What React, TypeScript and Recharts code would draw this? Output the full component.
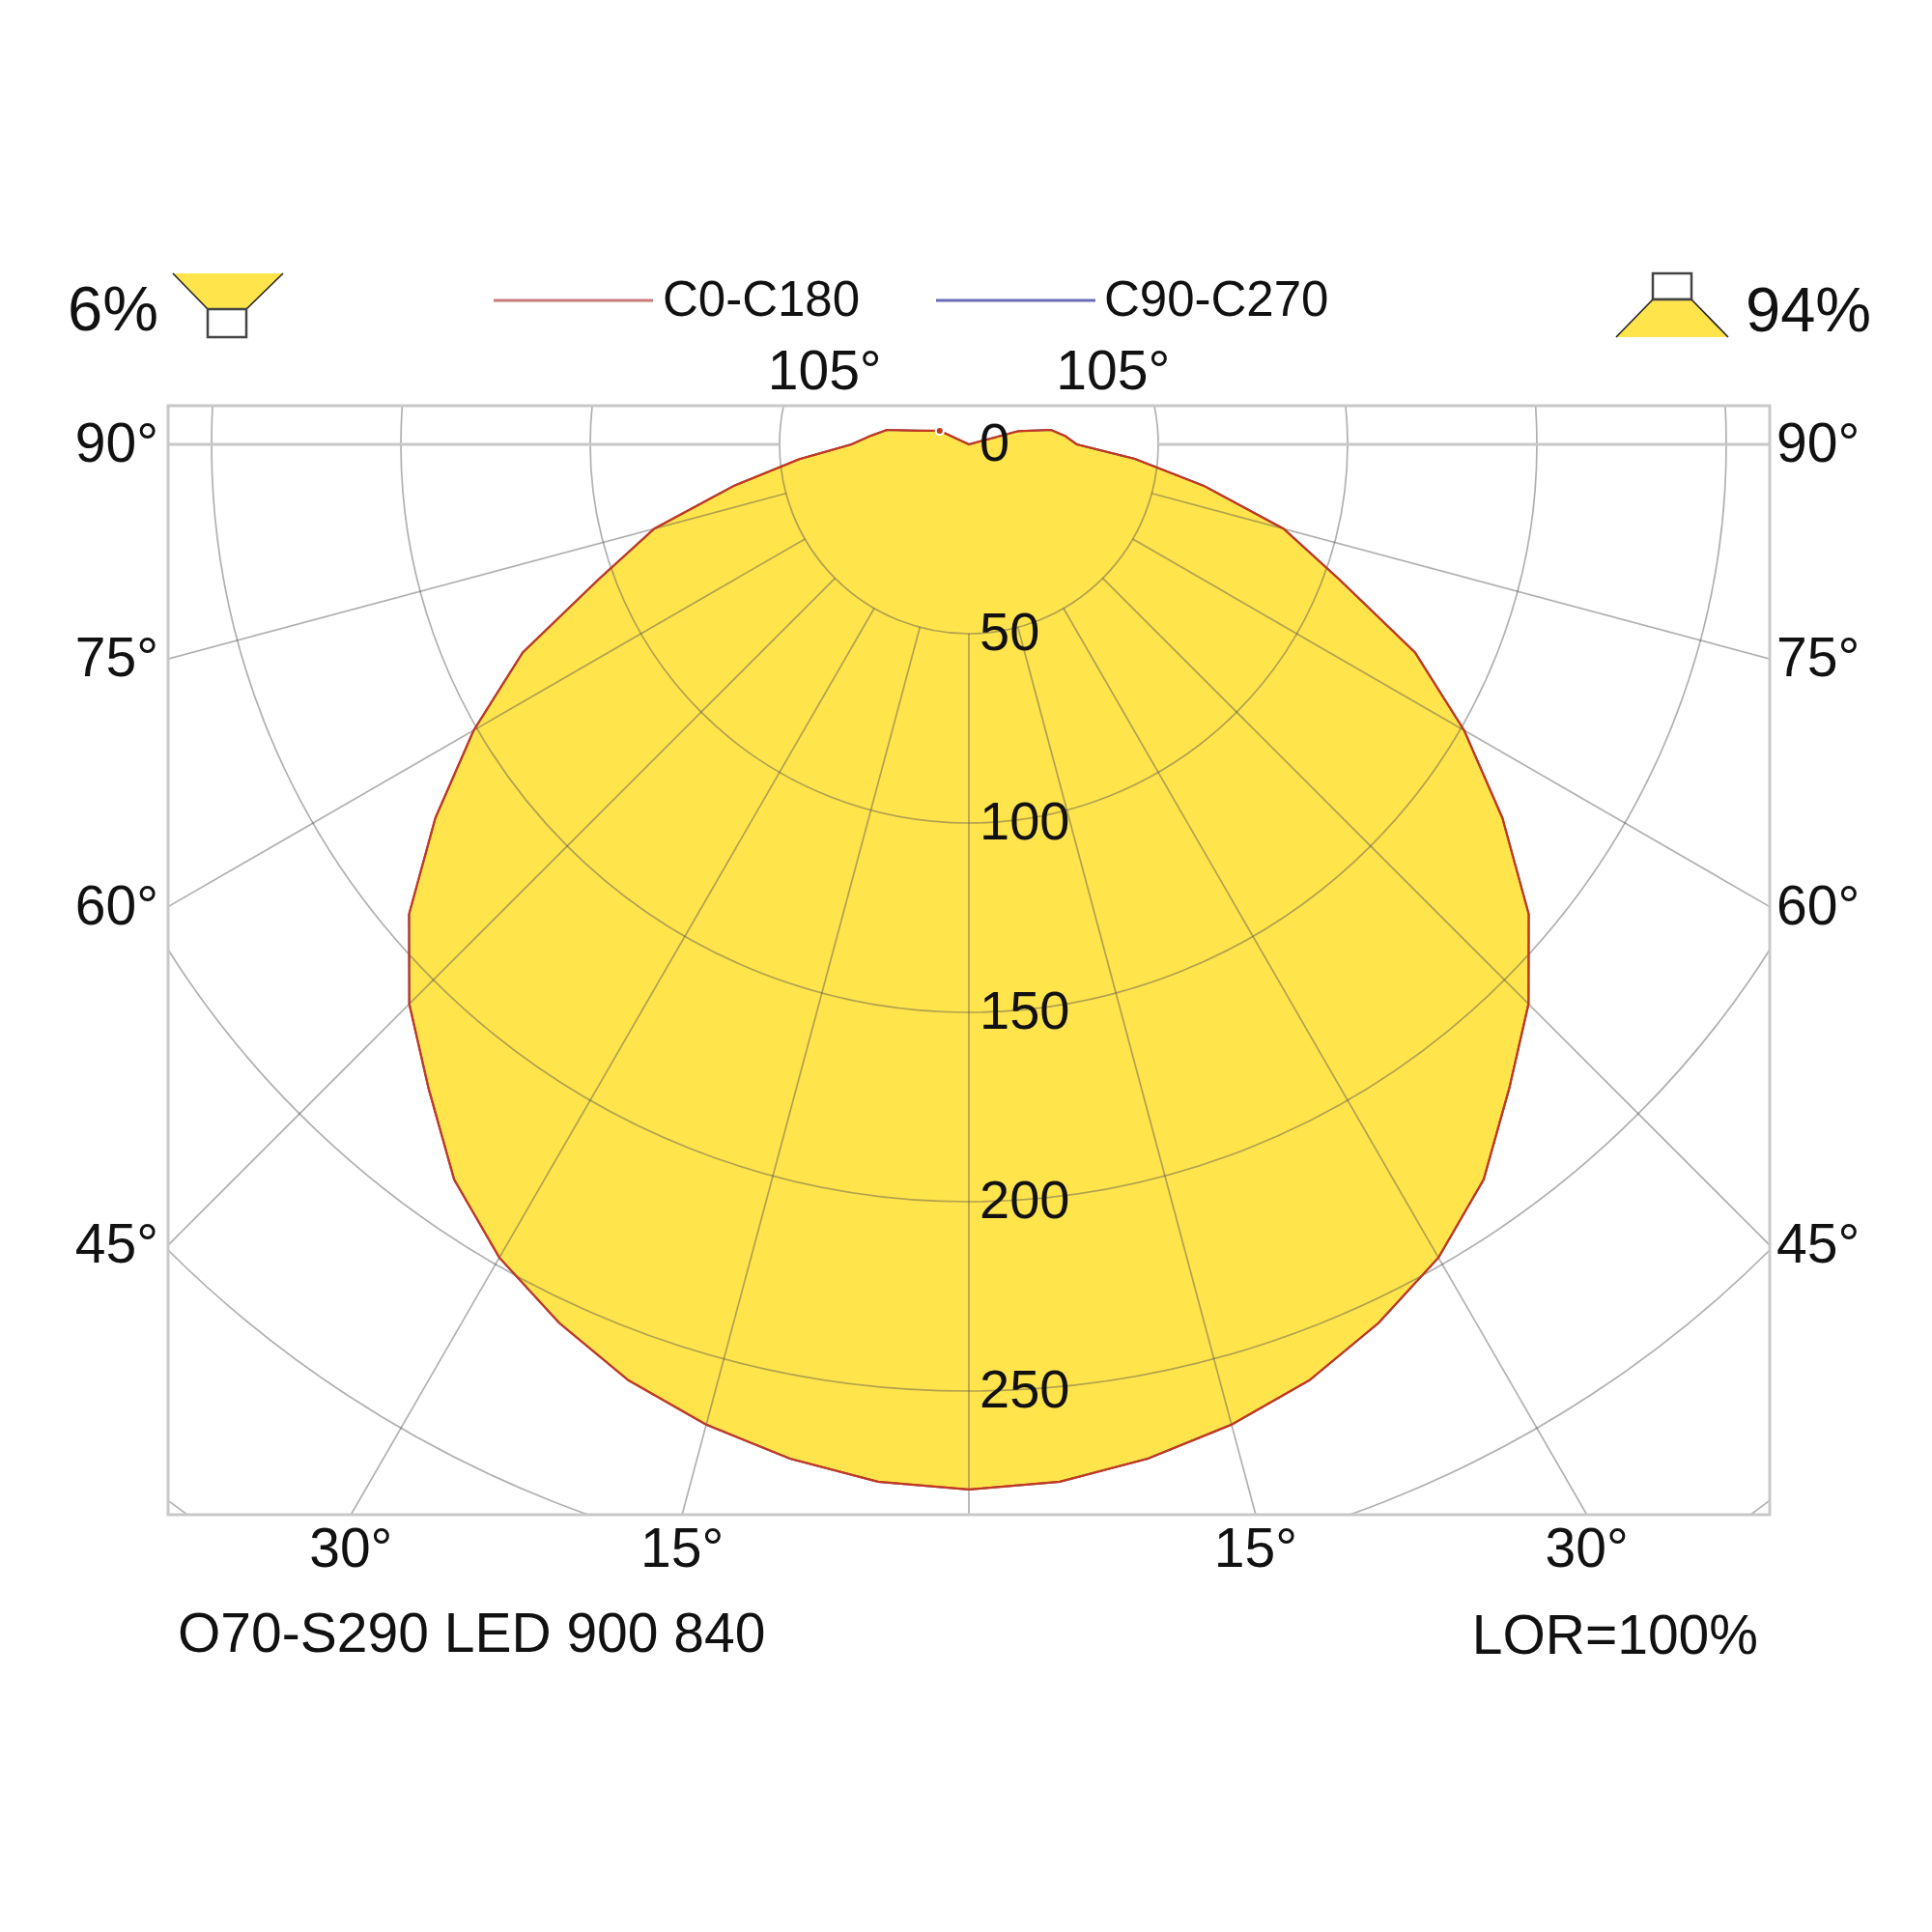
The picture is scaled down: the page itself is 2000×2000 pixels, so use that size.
import { RadarChart, Radar, PolarGrid, PolarAngleAxis, PolarRadiusAxis } from "recharts"

const WIDTH = 2000
const HEIGHT = 2000
const CX = 1003
const CY = 460
const START_ANGLE = -90 // gamma 0 points straight down
const INNER_R = 196 // 50 cd circle, the spokes start here
const OUTER_R = 1568 // 400 cd
const FONT = "'Liberation Sans', Arial, sans-serif"
const FRAME = { left: 174, top: 420, right: 1832, bottom: 1568 }

// gamma angles of the measurement (deg)
const gammaAngles = [
  0, 5, 10, 15, 20, 25, 30, 35, 40, 45, 50, 55, 60, 65, 70, 75, 80, 85, 90, 95, 100, 105, 110, 115, 120, 125,
  130, 135, 140, 145, 150, 155, 160, 165, 170, 175, 180,
]

// cd/klm, right half (C0) and left half (C180)
const c0 = [
  276, 275, 272, 268, 263, 256, 248, 237, 222, 209, 193, 172, 151, 130, 104, 86, 63, 44, 28.5, 25.5, 22, 13.5, 0, 0,
  0, 0, 0, 0, 0, 0, 0, 0, 0, 0, 0, 0, 0,
]
const c180 = [
  276, 275, 272, 268, 263, 256, 248, 237, 222, 209, 193, 172, 151, 130, 104, 86, 63, 45, 31, 26, 22, 14, 10.5, 8.5,
  0, 0, 0, 0, 0, 0, 0, 0, 0, 0, 0, 0, 0,
]
// C90-C270 lies under the C0-C180 curve
const c90 = [
  276, 275, 272, 268, 263, 256, 248, 237, 222, 209, 193, 172, 151, 130, 104, 86, 63, 44, 28.5, 25.5, 22, 13.5, 0, 0,
  0, 0, 0, 0, 0, 0, 0, 0, 0, 0, 0, 0, 0,
]
const c270 = [
  276, 275, 272, 268, 263, 256, 248, 237, 222, 209, 193, 172, 151, 130, 104, 86, 63, 45, 31, 26, 22, 14, 10.5, 8.5,
  0, 0, 0, 0, 0, 0, 0, 0, 0, 0, 0, 0, 0,
]

const seriesNames = ["C0-C180", "C90-C270"]
const strokeColors = ["#c4381c", "#5a5ab4"]
const legendColors = ["#c97b7b", "#6b6bb8"]

const angleTicks = [0, 15, 30, 45, 60, 75, 90, 105, 120, 135, 150, 165, 180, 195, 210, 225, 240, 255, 270, 285, 300, 315, 330, 345]
const labelledGammas = [15, 30, 45, 60, 75, 90, 105]
const radiusTicks = [0, 50, 100, 150, 200, 250, 300, 350, 400]
const RADIUS_LABEL_MAX = 250

const upwardShare = "6%"
const downwardShare = "94%"
const luminaireName = "O70-S290 LED 900 840"
const lorText = "LOR=100%"

// left half runs 0..180 clockwise from the bottom, right half comes back up
const rows = [
  ...gammaAngles.map((g, i) => ({ pos: g, c0c180: c180[i], c90c270: c270[i] })),
  ...gammaAngles
    .slice(1, -1)
    .map((g, i) => ({ pos: 360 - g, c0c180: c0[i + 1], c90c270: c90[i + 1] }))
    .reverse(),
]

const YELLOW = "#ffe44c"
// semi transparent so the lines turn olive over the yellow, like the original
const GRID = "#505050"
const GRID_OPACITY = 0.45

// where a spoke leaves the frame
function frameHit(gamma: number, side: number) {
  const rad = (gamma * Math.PI) / 180
  const dx = side * Math.sin(rad)
  const dy = Math.cos(rad)
  const tx = ((side < 0 ? FRAME.left : FRAME.right) - CX) / dx
  const ty = Math.abs(dy) < 1e-6 ? Infinity : ((dy > 0 ? FRAME.bottom : FRAME.top) - CY) / dy
  const t = Math.min(tx, ty)
  return { x: CX + dx * t, y: CY + dy * t, edge: tx <= ty ? "side" : dy > 0 ? "bottom" : "top" }
}

function AngleTick(props: any) {
  const v = Number(props.payload?.value)
  const gamma = v <= 180 ? v : 360 - v
  if (!labelledGammas.includes(gamma)) return null
  const side = v <= 180 ? -1 : 1
  const hit = frameHit(gamma, side)
  let x = hit.x
  let y = hit.y
  let anchor = "middle"
  if (hit.edge === "side") {
    x = side < 0 ? FRAME.left - 10 : FRAME.right + 7
    y = hit.y + 18
    anchor = side < 0 ? "end" : "start"
  } else if (hit.edge === "bottom") {
    y = FRAME.bottom + 54
  } else {
    y = FRAME.top - 17
  }
  return (
    <text x={x} y={y} textAnchor={anchor} fontSize={57} fontFamily={FONT} fill="#111">
      {`${gamma}°`}
    </text>
  )
}

function RadiusTick(props: any) {
  const v = Number(props.payload?.value)
  if (v > RADIUS_LABEL_MAX) return null
  return (
    <text x={props.x + 11} y={props.y + 17} textAnchor="start" fontSize={56} fontFamily={FONT} fill="#111">
      {v}
    </text>
  )
}

const chartProps = {
  width: WIDTH,
  height: HEIGHT,
  data: rows,
  cx: CX,
  cy: CY,
  innerRadius: INNER_R,
  outerRadius: OUTER_R,
  startAngle: START_ANGLE,
  endAngle: START_ANGLE - 360,
  margin: { top: 0, right: 0, bottom: 0, left: 0 },
}

const layer: React.CSSProperties = { position: "absolute", left: 0, top: 0 }

export default function App() {
  return (
    <div style={{ position: "absolute", left: 0, top: 0, width: WIDTH, height: HEIGHT, background: "#fff" }}>
      <style>{`
        .lid-grid .recharts-polar-grid { clip-path: url(#lid-frame-clip); }
        .lid-grid .recharts-polar-grid-angle line:nth-child(7),
        .lid-grid .recharts-polar-grid-angle line:nth-child(19) { stroke: #c8c8c8; stroke-opacity: 1; stroke-width: 3px; }
      `}</style>

      {/* yellow fill, kept under the grid */}
      <div style={layer}>
        <RadarChart {...chartProps}>
          <PolarAngleAxis dataKey="pos" type="category" tick={false} tickLine={false} axisLine={false} />
          <PolarRadiusAxis type="number" domain={[50, 400]} allowDataOverflow tick={false} axisLine={false} />
          <Radar dataKey="c0c180" fill={YELLOW} fillOpacity={1} stroke="none" dot={false} isAnimationActive={false} />
        </RadarChart>
      </div>

      {/* grid, outlines and labels */}
      <div style={layer} className="lid-grid">
        <RadarChart {...chartProps}>
          <PolarGrid
            gridType="circle"
            polarAngles={angleTicks.map((t) => START_ANGLE - t)}
            stroke={GRID}
            strokeOpacity={GRID_OPACITY}
            strokeWidth={1.7}
          />
          <PolarAngleAxis dataKey="pos" type="category" tick={AngleTick} tickLine={false} axisLine={false} />
          <PolarRadiusAxis
            angle={-90}
            type="number"
            domain={[50, 400]}
            allowDataOverflow
            ticks={radiusTicks}
            tick={RadiusTick}
            axisLine={false}
          />
          <Radar
            name={seriesNames[1]}
            dataKey="c90c270"
            fill="none"
            stroke={strokeColors[1]}
            strokeWidth={2}
            dot={false}
            isAnimationActive={false}
          />
          <Radar
            name={seriesNames[0]}
            dataKey="c0c180"
            fill="none"
            stroke={strokeColors[0]}
            strokeWidth={2.2}
            dot={false}
            isAnimationActive={false}
          />
        </RadarChart>
      </div>

      <svg width={WIDTH} height={HEIGHT} style={{ ...layer, pointerEvents: "none" }}>
        <defs>
          <clipPath id="lid-frame-clip" clipPathUnits="userSpaceOnUse">
            <rect
              x={FRAME.left}
              y={FRAME.top}
              width={FRAME.right - FRAME.left}
              height={FRAME.bottom - FRAME.top}
            />
          </clipPath>
        </defs>

        <rect
          x={FRAME.left}
          y={FRAME.top}
          width={FRAME.right - FRAME.left}
          height={FRAME.bottom - FRAME.top}
          fill="none"
          stroke="#c8c8c8"
          strokeWidth={3}
        />

        {/* upward light icon */}
        <text x={70} y={342} fontSize={65} fontFamily={FONT} fill="#111">
          {upwardShare}
        </text>
        <polygon points="179,283 293,283 255,320 215,320" fill={YELLOW} />
        <line x1={179} y1={283} x2={215} y2={320} stroke="#222" strokeWidth={1.6} />
        <line x1={293} y1={283} x2={255} y2={320} stroke="#222" strokeWidth={1.6} />
        <rect x={215} y={320} width={40} height={29} fill="#fff" stroke="#444" strokeWidth={2.5} />

        {/* downward light icon */}
        <rect x={1711} y={283} width={40} height={27} fill="#fff" stroke="#444" strokeWidth={2.5} />
        <polygon points="1711,310 1751,310 1789,349 1673,349" fill={YELLOW} />
        <line x1={1711} y1={310} x2={1673} y2={349} stroke="#222" strokeWidth={1.6} />
        <line x1={1751} y1={310} x2={1789} y2={349} stroke="#222" strokeWidth={1.6} />
        <line x1={1711} y1={310} x2={1751} y2={310} stroke="#444" strokeWidth={2.5} />
        <text x={1807} y={343} fontSize={65} fontFamily={FONT} fill="#111">
          {downwardShare}
        </text>

        {/* legend */}
        <line x1={511} y1={311} x2={676} y2={311} stroke={legendColors[0]} strokeWidth={3} />
        <text x={686} y={327} fontSize={51} fontFamily={FONT} fill="#111">
          {seriesNames[0]}
        </text>
        <line x1={969} y1={311} x2={1134} y2={311} stroke={legendColors[1]} strokeWidth={3} />
        <text x={1143} y={327} fontSize={51} fontFamily={FONT} fill="#111">
          {seriesNames[1]}
        </text>

        <text x={184} y={1710} fontSize={57} fontFamily={FONT} fill="#111">
          {luminaireName}
        </text>
        <text x={1820} y={1712} textAnchor="end" fontSize={57} fontFamily={FONT} fill="#111">
          {lorText}
        </text>
      </svg>
    </div>
  )
}
